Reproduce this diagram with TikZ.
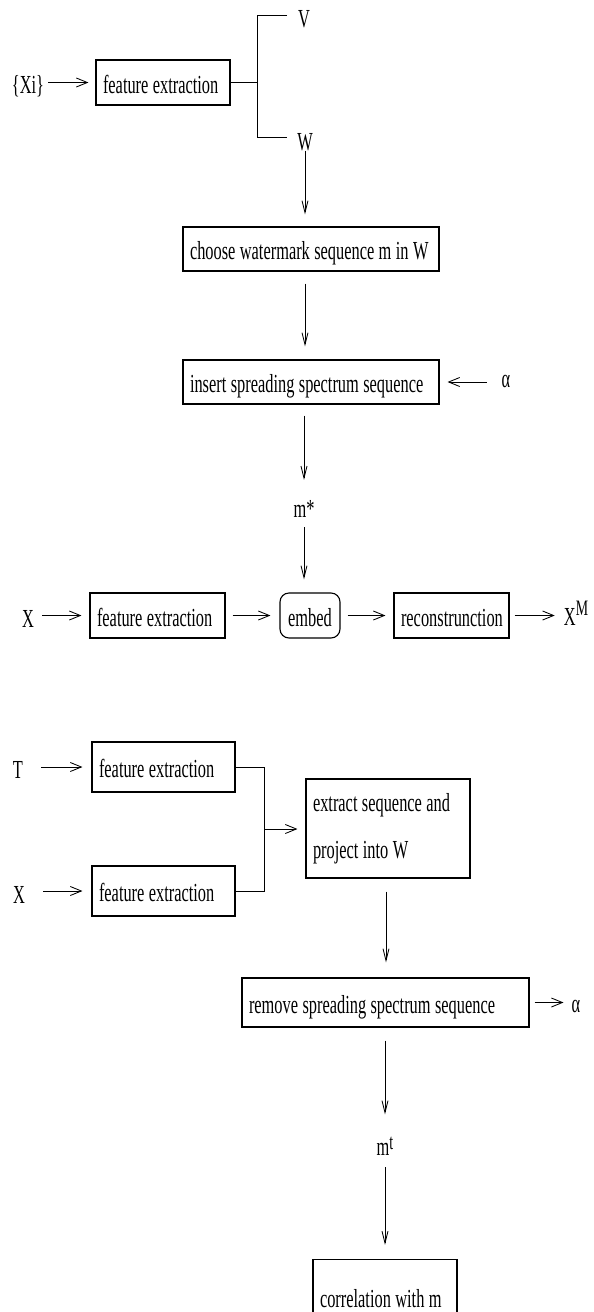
\documentclass[tikz,border=0pt]{standalone}
\usepackage{fontspec}
\setmainfont{Liberation Serif}[FakeStretch=0.63]
\usetikzlibrary{arrows.meta}
\newcommand{\figfont}[1]{\fontsize{26}{#1}\selectfont}
\begin{document}
\begin{tikzpicture}[x=1pt,y=-1pt,
  every node/.style={font=\figfont{30}, execute at begin node={\spaceskip=4.4pt plus 0.5pt minus 0.5pt\relax}},
  box/.style={draw, line width=1.1pt, inner xsep=7pt, inner ysep=0pt, align=left, text height=22pt, text depth=1pt},
  lbl/.style={inner sep=0pt, anchor=base},
  ha/.style={line width=0.85pt, -{Straight Barb[length=11pt,width=9pt]}},
  va/.style={line width=0.85pt, -{Straight Barb[length=12pt,width=6pt]}},
  ln/.style={line width=1pt}]
\useasboundingbox (0,0) rectangle (594,1312);

% ---------- embedding ----------
\node[lbl] (Xi) at (28,93) {\{Xi\}};
\node[box, text width=120pt, minimum height=45pt] (fe1) at (163,82.5) {\mbox{feature extraction}};
\coordinate (br) at (257,82.5);
\coordinate (vend) at (287,15);
\coordinate (wend) at (287,137);
\node[lbl] (V) at (304,27) {V};
\node[lbl] (W) at (305,150) {W};
\node[box, text width=242pt, minimum height=44pt] (choose) at (311,249) {\mbox{choose watermark sequence m in W}};
\node[box, text width=242pt, minimum height=44pt] (insert) at (311,382) {\mbox{insert spreading spectrum sequence}};
\node[lbl] (a1) at (506,387) {α};
\node[lbl] (mstar) at (304,517) {m*};

\node[lbl] (X1) at (28,627) {X};
\node[box, text width=121pt, minimum height=45pt] (fe2) at (157.5,615.5) {\mbox{feature extraction}};
\node[box, align=center, inner xsep=0pt, minimum width=60pt, minimum height=45pt, rounded corners=9pt] (embed) at (310,615.5) {embed};
\node[box, text width=101pt, minimum height=45pt] (recon) at (451.5,615.5) {\mbox{reconstrunction}};
\node[lbl] (XM) at (576,625) {X\raisebox{10pt}{\fontsize{22}{22}\selectfont M}};

\draw[ha, shorten <=4pt, shorten >=7pt] (Xi.east |- fe1.west) -- (fe1.west);
\draw[ln] (fe1.east) -- (br);
\draw[ln] (vend) -- (vend -| br) -- (wend -| br) -- (wend);
\draw[va, shorten >=12pt] (W.south) -- (W.south |- choose.north);
\draw[va, shorten <=12pt, shorten >=13pt] ([xshift=-6pt]choose.south) -- ([xshift=-6pt]insert.north);
\draw[ha, shorten <=15pt, shorten >=8pt] (a1.west |- insert.east) -- (insert.east);
\draw[va, shorten <=11pt, shorten >=20pt] (mstar |- insert.south) -- (mstar.north);
\draw[va, shorten <=10pt, shorten >=13pt] (mstar.south) -- (mstar |- embed.north);

\draw[ha, shorten <=8pt, shorten >=8pt] (X1.east |- fe2.west) -- (fe2.west);
\draw[ha, shorten <=7pt, shorten >=9pt] (fe2.east) -- (embed.west);
\draw[ha, shorten <=7pt, shorten >=8pt] (embed.east) -- (recon.west);
\draw[ha, shorten <=5pt, shorten >=9pt] (recon.east) -- (XM.west |- recon.east);

% ---------- detection ----------
\node[lbl] (T) at (18,778) {T};
\node[lbl] (X2) at (19,903) {X};
\node[box, text width=129pt, minimum height=50pt] (fe3) at (163.5,767) {\mbox{feature extraction}};
\node[box, text width=129pt, minimum height=50pt] (fe4) at (163.5,891) {\mbox{feature extraction}};
\coordinate (jn) at (264,829);
\node[draw, line width=1.1pt, inner xsep=7pt, inner ysep=0pt, align=left, text width=150pt, minimum height=99pt,
      font=\figfont{47}] (extract) at (388,828.5) {extract sequence and\\project into W};
\node[box, text width=273pt, minimum height=49pt] (remove) at (385.5,1002.5) {\mbox{remove spreading spectrum sequence}};
\node[lbl] (a2) at (576,1012) {α};
\node[lbl] (mt) at (385,1155) {m\raisebox{6pt}{\fontsize{22}{22}\selectfont t}};
\node[box, text width=130pt, minimum height=75pt] (corr) at (385,1297) {\mbox{correlation with m}};

\draw[ha, shorten <=18pt, shorten >=9pt] (T.east |- fe3.west) -- (fe3.west);
\draw[ha, shorten <=18pt, shorten >=9pt] (X2.east |- fe4.west) -- (fe4.west);
\draw[ln] (fe3.east) -- (fe3.east -| jn) -- (fe4.east -| jn) -- (fe4.east);
\draw[ha, shorten >=8pt] (jn) -- (jn -| extract.west);
\draw[va, shorten <=13pt, shorten >=15pt] ([xshift=-2pt]extract.south) -- ([xshift=-2pt]extract.south |- remove.north);
\draw[ha, shorten <=5pt, shorten >=8pt] (remove.east) -- (a2.west |- remove.east);
\draw[va, shorten <=13pt, shorten >=22pt] (mt |- remove.south) -- (mt.north);
\draw[va, shorten <=12pt, shorten >=14pt] (mt.south) -- (mt |- corr.north);
\end{tikzpicture}
\end{document}
